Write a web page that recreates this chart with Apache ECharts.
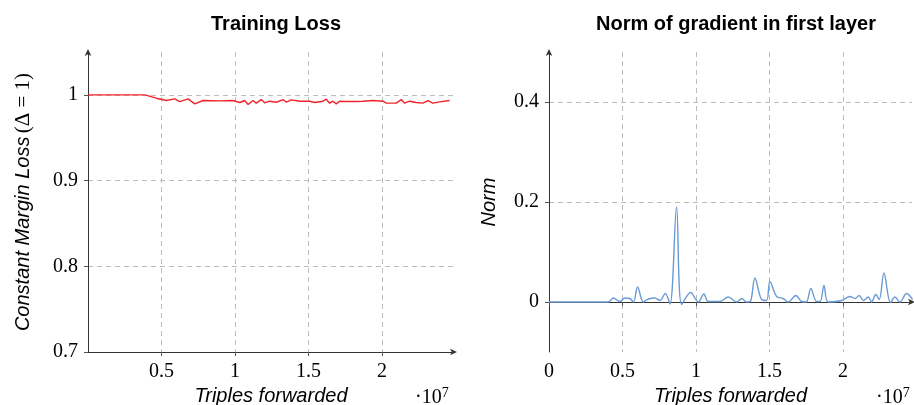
<!DOCTYPE html>
<html>
  <head>
    <meta charset="utf-8" />
    <title>Training Loss / Norm of gradient</title>
    <script src="https://cdn.jsdelivr.net/npm/echarts@6/dist/echarts.min.js"></script>
    <style>
      html, body { margin: 0; padding: 0; background: #fff; }
      #chart { width: 914px; height: 405px; }
    </style>
  </head>
  <body>
    <div id="chart"></div>
    <script type="text/javascript">
      // x values are in units of 1e7 triples
      var lossX = [0, 0.386, 0.465, 0.533, 0.590, 0.624, 0.681, 0.726, 0.783, 0.896, 0.987, 1.032, 1.066, 1.089, 1.123,
                   1.145, 1.179, 1.202, 1.236, 1.281, 1.327, 1.349, 1.383, 1.440, 1.508, 1.542, 1.598, 1.621, 1.644,
                   1.666, 1.689, 1.712, 1.746, 1.825, 1.870, 1.938, 2.006, 2.029, 2.097, 2.131, 2.154, 2.188, 2.233,
                   2.278, 2.312, 2.346, 2.392, 2.460];
      var lossY = [1, 1, 0.9961, 0.9934, 0.9953, 0.9922, 0.9953, 0.9895, 0.9934, 0.9930, 0.9934, 0.9911, 0.9934, 0.9887, 0.9934,
                   0.9903, 0.9945, 0.9907, 0.9926, 0.9914, 0.9945, 0.9914, 0.9942, 0.9926, 0.9926, 0.9911, 0.9926, 0.9949, 0.9903,
                   0.9926, 0.9895, 0.9926, 0.9922, 0.9922, 0.9926, 0.9934, 0.9926, 0.9903, 0.9903, 0.9945, 0.9903, 0.9926, 0.9911,
                   0.9903, 0.9934, 0.9903, 0.9918, 0.9934];

      var normX = [0, 0.404, 0.438, 0.483, 0.517, 0.550, 0.574, 0.603, 0.642, 0.676, 0.721, 0.755, 0.791, 0.823, 0.868,
                   0.903, 0.964, 1.016, 1.054, 1.084, 1.163, 1.220, 1.277, 1.311, 1.345, 1.370, 1.401, 1.447, 1.481,
                   1.503, 1.549, 1.594, 1.628, 1.680, 1.719, 1.750, 1.782, 1.821, 1.845, 1.871, 1.900, 1.991, 2.048,
                   2.082, 2.111, 2.139, 2.172, 2.195, 2.224, 2.247, 2.279, 2.324, 2.354, 2.388, 2.433, 2.474];
      var normY = [0, 0, 0.008, 0.001, 0.008, 0.007, 0, 0.030, 0, 0.006, 0.008, 0.003, 0.017, -0.004, 0.190,
                   -0.005, 0.019, 0, 0.016, 0.001, 0.001, 0.010, 0, 0.007, 0, 0.001, 0.048, 0.005, 0.003,
                   0.041, 0.011, 0.007, 0, 0.013, 0.001, 0, 0.027, 0.001, 0.001, 0.033, 0, 0.003, 0.011,
                   0.007, 0.013, 0.003, 0.010, 0, 0.015, 0.005, 0.058, -0.001, 0.010, 0, 0.017, 0.005];

      var normTicks = [0, 0.2, 0.4];

      function zip(xs, ys) {
        var out = [];
        for (var i = 0; i < xs.length; i++) out.push([xs[i], ys[i]]);
        return out;
      }

      var T = 'rgba(0,0,0,0)', G = '#bdbdbd';
      var serif = '"Liberation Serif", "DejaVu Serif", serif';
      var sans = '"Liberation Sans", Arial, sans-serif';

      var axisLineStyle = {
        show: true,
        symbol: ['none', 'arrow'],
        symbolSize: [5, 7],
        symbolOffset: [0, 3],
        lineStyle: { color: '#333', width: 1 }
      };
      var tickStyle = { show: true, length: 4, lineStyle: { color: '#555' } };
      var labelBase = { color: '#000', fontFamily: serif, fontSize: 20, margin: 10 };
      var nameBase = { color: '#000', fontFamily: sans, fontStyle: 'italic', fontSize: 20 };
      var dash = [5, 4];
      var exponent = {
        text: '{a|·10}{b|7}',
        rich: {
          a: { fontFamily: serif, fontSize: 20, fill: '#000' },
          b: { fontFamily: serif, fontSize: 14, fill: '#000', verticalAlign: 'top', padding: [0, 0, 9, 0] }
        }
      };

      var chart = echarts.init(document.getElementById('chart'), null, { renderer: 'canvas' });
      chart.setOption({
        animation: false,
        backgroundColor: '#fff',
        title: [
          { text: 'Training Loss', left: 271, top: 9, textAlign: 'center',
            textStyle: { fontFamily: sans, fontWeight: 'bold', fontSize: 20, color: '#000' } },
          { text: 'Norm of gradient in first layer', left: 731, top: 9, textAlign: 'center',
            textStyle: { fontFamily: sans, fontWeight: 'bold', fontSize: 20, color: '#000' } }
        ],
        grid: [
          { left: 88, top: 52, width: 366, height: 300, outerBoundsMode: 'none', containLabel: false },
          { left: 549, top: 52, width: 363, height: 300, outerBoundsMode: 'none', containLabel: false }
        ],
        xAxis: [
          {
            gridIndex: 0, type: 'value', min: 0, max: 2.49, interval: 0.5,
            name: 'Triples forwarded', nameLocation: 'middle', nameGap: 30, nameTextStyle: nameBase,
            axisLine: axisLineStyle, axisTick: tickStyle,
            axisLabel: Object.assign({ showMinLabel: false, showMaxLabel: false }, labelBase),
            splitLine: { show: true, lineStyle: { type: dash, color: [T, G, G, G, G, T] } }
          },
          {
            gridIndex: 1, type: 'value', min: 0, max: 2.47, interval: 0.5,
            name: 'Triples forwarded', nameLocation: 'middle', nameGap: 30, nameTextStyle: nameBase,
            axisLine: axisLineStyle, axisTick: tickStyle,
            axisLabel: Object.assign({ showMinLabel: true, showMaxLabel: false }, labelBase),
            splitLine: { show: true, lineStyle: { type: dash, color: [T, G, G, G, G, T] } }
          }
        ],
        yAxis: [
          {
            gridIndex: 0, type: 'value', min: 0.7, max: 1.05, interval: 0.1,
            name: '{i|Constant Margin Loss} {n|(Δ = 1)}', nameLocation: 'middle', nameGap: 54,
            nameTextStyle: {
              rich: {
                i: { fontFamily: sans, fontStyle: 'italic', fontSize: 20, color: '#000' },
                n: { fontFamily: serif, fontSize: 21, color: '#000' }
              }
            },
            axisLine: axisLineStyle, axisTick: tickStyle,
            axisLabel: Object.assign({ showMaxLabel: false }, labelBase),
            splitLine: { show: true, lineStyle: { type: dash, color: [T, G, G, G, T] } }
          },
          {
            gridIndex: 1, type: 'value', min: -0.1, max: 0.5, interval: 0.1,
            name: 'Norm', nameLocation: 'middle', nameGap: 50, nameTextStyle: nameBase,
            axisLine: axisLineStyle,
            axisTick: Object.assign({ customValues: normTicks }, tickStyle),
            axisLabel: Object.assign({ customValues: normTicks }, labelBase),
            splitLine: { show: true, lineStyle: { type: dash, color: [G, G, G] } }
          }
        ],
        graphic: [
          { type: 'text', left: 415, top: 386, style: exponent },
          { type: 'text', left: 876, top: 386, style: exponent }
        ],
        series: [
          {
            type: 'line', xAxisIndex: 0, yAxisIndex: 0, data: zip(lossX, lossY),
            showSymbol: false, lineStyle: { color: '#f2232a', width: 1.4 }
          },
          {
            type: 'line', xAxisIndex: 1, yAxisIndex: 1, data: zip(normX, normY),
            showSymbol: false, smooth: 0.35, lineStyle: { color: '#6b9bd3', width: 1.4 }
          }
        ]
      });
    </script>
  </body>
</html>
